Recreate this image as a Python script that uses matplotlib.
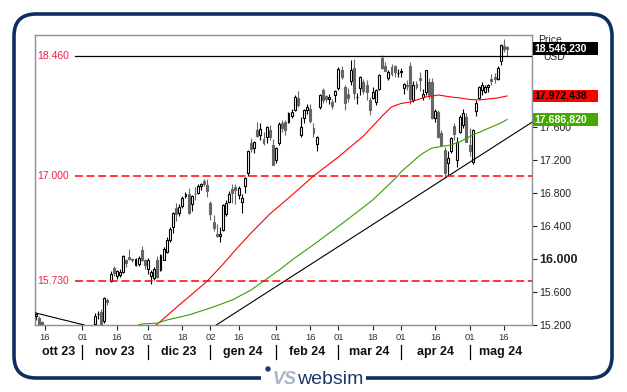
import matplotlib
matplotlib.use("Agg")
import matplotlib.pyplot as plt
import matplotlib.transforms as mtrans
from matplotlib.patches import Rectangle, FancyBboxPatch, Circle
import numpy as np
import pandas as pd

plt.rcParams['font.family'] = ['Liberation Sans', 'DejaVu Sans']

# trading calendar (US market) shown on the chart
holidays = ["2023-11-23", "2023-12-25", "2024-01-01", "2024-01-15", "2024-02-19", "2024-03-29"]
dates = pd.bdate_range("2023-10-11", "2024-05-17", freq="C", holidays=holidays)

opens = [
    15300, 15280, 15230, 15100, 15090, 15060, 14950, 14760, 14500, 14640, 14600, 14340, 14230, 14260, 14340,
    14400, 14810, 14980, 15090, 15210, 15330, 15350, 15250, 15500, 15730, 15890, 15790, 15800, 15840, 15980, 16020, 15995, 15930, 15940, 16100, 15990,
    15870, 15790, 15770, 15990, 15860, 15990, 16080, 16230, 16380, 16610, 16550, 16640, 16760, 16790, 16660, 16790, 16800, 16880, 16940, 16890,
    16680, 16450, 16300, 16270, 16350, 16540, 16690, 16840, 16870, 16770, 16690, 16880, 17040, 17400, 17340, 17560, 17500, 17450, 17470, 17560, 17380,
    17200, 17400, 17640, 17660, 17660, 17730, 17800, 17950, 17500, 17710, 17800, 17820, 17590, 17390, 17840, 18045, 17970, 17930, 17895, 17985,
    18065, 18290, 18085, 18000, 18150, 18310, 17960, 18065, 18140, 18110, 17925, 17950, 17900, 18060, 18435, 18340, 18185, 18320, 18330, 18250,
    18260, 18070, 18110, 18330, 17925, 18115, 18185, 17960, 18025, 18145, 18145, 17710, 17780, 17520, 17320, 17155, 17305, 17610, 17195, 17540, 17620, 17720,
    17380, 17175, 17790, 17945, 18040, 18020, 18080, 18180, 18205, 18180, 18390, 18580, 18570,
]
highs = [
    15345, 15310, 15250, 15200, 15190, 15130, 15030, 14790, 14720, 14770, 14620, 14400, 14290, 14410, 14420,
    14690, 14950, 15130, 15190, 15340, 15370, 15390, 15540, 15530, 15850, 15910, 15860, 15880, 16040, 16000, 16120, 16010, 16010, 16030, 16150, 16000,
    16010, 15860, 15900, 16030, 16060, 16140, 16260, 16380, 16570, 16680, 16660, 16760, 16810, 16860, 16770, 16870, 16900, 16920, 16970, 16970,
    16700, 16530, 16420, 16380, 16660, 16710, 16820, 16900, 16900, 16880, 16780, 16990, 17320, 17460, 17430, 17660, 17640, 17540, 17610, 17620, 17450,
    17350, 17660, 17680, 17680, 17780, 17810, 17980, 18030, 17720, 17820, 17870, 17870, 17640, 17490, 18000, 18070, 17990, 18000, 17940, 18050,
    18320, 18330, 18100, 18070, 18410, 18420, 18010, 18210, 18180, 18160, 17960, 18080, 18060, 18240, 18465, 18380, 18290, 18360, 18350, 18300,
    18310, 18130, 18170, 18380, 18150, 18150, 18260, 18060, 18290, 18190, 18190, 17810, 17800, 17560, 17350, 17300, 17480, 17640, 17480, 17740, 17810, 17760,
    17590, 17570, 17920, 18090, 18140, 18110, 18120, 18240, 18250, 18330, 18600, 18660, 18580,
]
lows = [
    15260, 15150, 14990, 15080, 14960, 14870, 14760, 14530, 14410, 14580, 14360, 14058, 14080, 14230, 14260,
    14390, 14780, 14950, 15060, 15170, 15270, 15180, 15220, 15440, 15720, 15790, 15760, 15780, 15830, 15900, 15990, 15960, 15910, 15910, 15970, 15870,
    15820, 15690, 15740, 15770, 15850, 15980, 16070, 16200, 16310, 16460, 16520, 16610, 16740, 16540, 16580, 16710, 16790, 16830, 16880, 16750,
    16470, 16340, 16260, 16200, 16340, 16520, 16670, 16680, 16660, 16720, 16560, 16800, 17000, 17290, 17280, 17480, 17440, 17380, 17400, 17440, 17130,
    17160, 17380, 17530, 17500, 17640, 17710, 17790, 17840, 17470, 17650, 17750, 17640, 17480, 17300, 17820, 17890, 17900, 17870, 17820, 17900,
    18050, 18180, 17800, 17900, 18110, 17940, 17880, 17980, 18000, 17920, 17740, 17930, 17860, 18040, 18300, 18270, 18170, 18220, 18200, 18200,
    18200, 18000, 18040, 17880, 17900, 18060, 18030, 17920, 17990, 17940, 17690, 17660, 17460, 17360, 16974, 17010, 17280, 17440, 17110, 17520, 17580, 17420,
    17240, 17150, 17730, 17930, 17980, 18010, 18020, 18100, 18130, 18160, 18350, 18500, 18460,
]
closes = [
    15330, 15190, 15040, 15190, 15110, 14910, 14790, 14540, 14580, 14740, 14380, 14110, 14180, 14340, 14410,
    14670, 14940, 15100, 15180, 15310, 15335, 15190, 15530, 15480, 15810, 15830, 15850, 15840, 16030, 15950, 16000, 15980, 15995, 16010, 15980, 15930,
    15990, 15840, 15880, 15780, 16040, 16120, 16230, 16360, 16560, 16540, 16630, 16730, 16790, 16550, 16760, 16780, 16880, 16900, 16900, 16820,
    16540, 16370, 16280, 16300, 16650, 16680, 16780, 16800, 16830, 16860, 16740, 16980, 17310, 17330, 17410, 17490, 17570, 17400, 17600, 17470, 17140,
    17340, 17630, 17590, 17560, 17760, 17780, 17960, 17860, 17600, 17800, 17840, 17670, 17520, 17480, 17990, 17925, 17930, 17960, 17855, 18030,
    18300, 18205, 17885, 17950, 18285, 18005, 17960, 18205, 18030, 18015, 17800, 18020, 18050, 18225, 18310, 18280, 18265, 18240, 18265, 18250,
    18280, 18115, 18090, 17935, 18105, 18075, 18165, 18000, 18285, 17990, 17700, 17790, 17480, 17380, 17035, 17215, 17460, 17510, 17420, 17715, 17770, 17420,
    17310, 17560, 17890, 18085, 18110, 18080, 18110, 18150, 18180, 18310, 18590, 18545, 18546.23,
]

# moving averages
ma_red_dates = ["2023-11-30", "2023-12-06", "2023-12-15", "2023-12-22", "2023-12-29", "2024-01-08", "2024-01-12",
                "2024-01-22", "2024-01-30", "2024-02-07", "2024-02-20", "2024-03-01", "2024-03-13", "2024-03-18",
                "2024-03-21", "2024-03-26", "2024-04-01", "2024-04-04", "2024-04-11", "2024-04-17", "2024-04-23",
                "2024-04-26", "2024-05-01", "2024-05-06", "2024-05-09", "2024-05-14", "2024-05-17"]
ma_red_vals = [15100, 15208, 15439, 15600, 15730, 15932, 16106,
               16311, 16542, 16735, 17002, 17233, 17487, 17608,
               17730, 17839, 17881, 17899, 17960, 17984, 17960,
               17948, 17930, 17924, 17936, 17948, 17972.438]
ma_green_dates = ["2023-11-27", "2023-11-29", "2023-12-06", "2023-12-11", "2023-12-20", "2024-01-02", "2024-01-11",
                  "2024-01-22", "2024-02-02", "2024-02-09", "2024-02-16", "2024-03-04", "2024-03-11", "2024-03-18",
                  "2024-03-20", "2024-03-25", "2024-03-28", "2024-04-01", "2024-04-09", "2024-04-11", "2024-04-15",
                  "2024-04-23", "2024-04-26", "2024-05-02", "2024-05-10", "2024-05-15", "2024-05-17"]
ma_green_vals = [15185, 15209, 15220, 15257, 15318, 15403, 15500,
                 15621, 15863, 16009, 16142, 16421, 16566, 16712,
                 16785, 16893, 17002, 17051, 17250, 17300, 17342,
                 17378, 17420, 17499, 17596, 17645, 17686.82]

trend_up = [("2023-10-26", 14058), ("2024-04-19", 16974)]
trend_down = [("2023-10-11", 15343), ("2023-11-01", 15202)]

levels = [18460, 17000, 15730]
level_text = ["18.460", "17.000", "15.730"]

ytick_vals = [15200, 15600, 16000, 16400, 16800, 17200, 17600]
ytick_text = ["15.200", "15.600", "16.000", "16.400", "16.800", "17.200", "17.600"]

tick_dates = ["2023-10-16", "2023-11-01", "2023-11-16", "2023-12-01", "2023-12-18", "2024-01-02", "2024-01-16",
              "2024-02-01", "2024-02-16", "2024-03-01", "2024-03-18", "2024-04-01", "2024-04-16", "2024-05-01", "2024-05-16"]
tick_text = ["16", "01", "16", "01", "18", "02", "16", "01", "16", "01", "18", "01", "16", "01", "16"]
month_starts = ["2023-11-01", "2023-12-01", "2024-01-02", "2024-02-01", "2024-03-01", "2024-04-01", "2024-05-01"]
month_text = ["ott 23", "nov 23", "dic 23", "gen 24", "feb 24", "mar 24", "apr 24", "mag 24"]

end_labels = [(18546.23, "18.546,230", "black", "white"),
              (17972.438, "17.972,438", "#ff0000", "black"),
              (17686.82, "17.686,820", "#44a800", "white")]


def idx(d):
    return dates.get_loc(pd.Timestamp(d))


W, H = 627, 392
fig = plt.figure(figsize=(W / 100, H / 100), dpi=100)
pix = mtrans.Affine2D().scale(1.0 / W, 1.0 / H) + fig.transFigure

ax = fig.add_axes([35 / W, (H - 325) / H, 497 / W, 290 / H])
XMIN, XMAX = -0.2, 159
ax.set_xlim(XMIN, XMAX)
ax.set_ylim(15197, 18711)

x = np.arange(len(dates))
o = np.array(opens, float)
h = np.array(highs, float)
l = np.array(lows, float)
c = np.array(closes, float)
up = c >= o
dn = ~up
gray = "#666666"

ax.vlines(x[up], l[up], h[up], color="black", lw=0.8, zorder=2)
ax.vlines(x[dn], l[dn], h[dn], color=gray, lw=0.8, zorder=2)
ax.bar(x[up], (c - o)[up], bottom=o[up], width=0.62, color="white", edgecolor="black", lw=0.8, zorder=3)
ax.bar(x[dn], (o - c)[dn], bottom=c[dn], width=0.62, color=gray, edgecolor=gray, lw=0.8, zorder=3)

# moving averages
ax.plot([idx(d) for d in ma_red_dates], ma_red_vals, color="#ff0000", lw=0.8, zorder=4)
ax.plot([idx(d) for d in ma_green_dates], ma_green_vals, color="#3a9e00", lw=0.8, zorder=4)

# trend lines
ax.axline((idx(trend_up[0][0]), trend_up[0][1]), (idx(trend_up[1][0]), trend_up[1][1]), color="black", lw=0.8, zorder=4)
ax.axline((idx(trend_down[0][0]), trend_down[0][1]), (idx(trend_down[1][0]), trend_down[1][1]), color="black", lw=0.8, zorder=4)

# horizontal levels
line_start = 12.6
ax.plot([line_start, XMAX], [levels[0]] * 2, color="black", lw=0.9, zorder=4)
for v in levels[1:]:
    ax.plot([line_start, XMAX], [v] * 2, color="#ff0000", lw=1.1, ls=(0, (5.2, 2.4)), zorder=4)
for v, t in zip(levels, level_text):
    ax.text(0.004, v, t, transform=ax.get_yaxis_transform(), color="#f01e46",
            fontsize=7.5, va="center", ha="left")

# axes styling
for s in ax.spines.values():
    s.set_color("#8e8ea0")
    s.set_linewidth(1.0)

ax.yaxis.tick_right()
ax.set_yticks(ytick_vals)
ax.set_yticklabels(ytick_text)
ax.tick_params(axis="y", length=3.5, width=0.8, color="#222222", labelsize=7.6, pad=2, labelcolor="#222222")
for lbl in ax.get_yticklabels():
    if lbl.get_text() == "16.000":
        lbl.set_fontweight("bold")
        lbl.set_fontsize(9)

ax.set_xticks([idx(d) for d in tick_dates])
ax.set_xticklabels(tick_text)
ax.tick_params(axis="x", length=3.5, width=0.8, color="#222222", labelsize=6.8, pad=2, labelcolor="#333333")

# month labels and separators
xt = ax.get_xaxis_transform()
ms = [idx(d) for d in month_starts]
bounds = [XMIN] + ms + [XMAX]
for k, t in enumerate(month_text):
    ax.text((bounds[k] + bounds[k + 1]) / 2, -27 / 290, t, transform=xt, ha="center", va="center",
            fontsize=9, fontweight="bold", color="#111111")
for m in ms:
    ax.plot([m, m], [-20 / 290, -34 / 290], transform=xt, color="black", lw=0.9, clip_on=False)

# right-hand labels
yt = ax.get_yaxis_transform()
ax.text(1.012, 18651, "Price", transform=yt, fontsize=7.5, color="#222222", va="center", ha="left", clip_on=False, zorder=5)
ax.text(1.022, 18440, "USD", transform=yt, fontsize=7.5, color="#222222", va="center", ha="left", clip_on=False, zorder=5)
for v, t, fc, tc in end_labels:
    ax.add_patch(Rectangle((1.002, v - 76), 0.131, 152, transform=yt, fc=fc, ec="none", clip_on=False, zorder=6))
    ax.text(1.005, v, t, transform=yt, fontsize=7.6, fontweight="bold", color=tc, va="center", ha="left",
            clip_on=False, zorder=7)

# outer frame with logo
frame = FancyBboxPatch((14, H - 378), 598, 364, boxstyle="round,pad=0,rounding_size=22",
                       transform=pix, fill=False, ec="#0c2f5f", lw=2.6, zorder=1)
fig.add_artist(frame)
fig.add_artist(Rectangle((261, H - 384), 105, 12, transform=pix, fc="white", ec="none", zorder=2))
fig.add_artist(Circle((268, H - 369), 2.0, transform=pix, color="#1e3a6a", zorder=3))
fig.text(272 / W, 1 - 379 / H, "VS", fontsize=13, style="italic", fontweight="bold", color="#a8b5c8",
         ha="left", va="center", zorder=3)
fig.text(297 / W, 1 - 379 / H, "websim", fontsize=14, color="#1e3a6a", ha="left", va="center", zorder=3)

fig.savefig("out.png", dpi=100, facecolor="white")
